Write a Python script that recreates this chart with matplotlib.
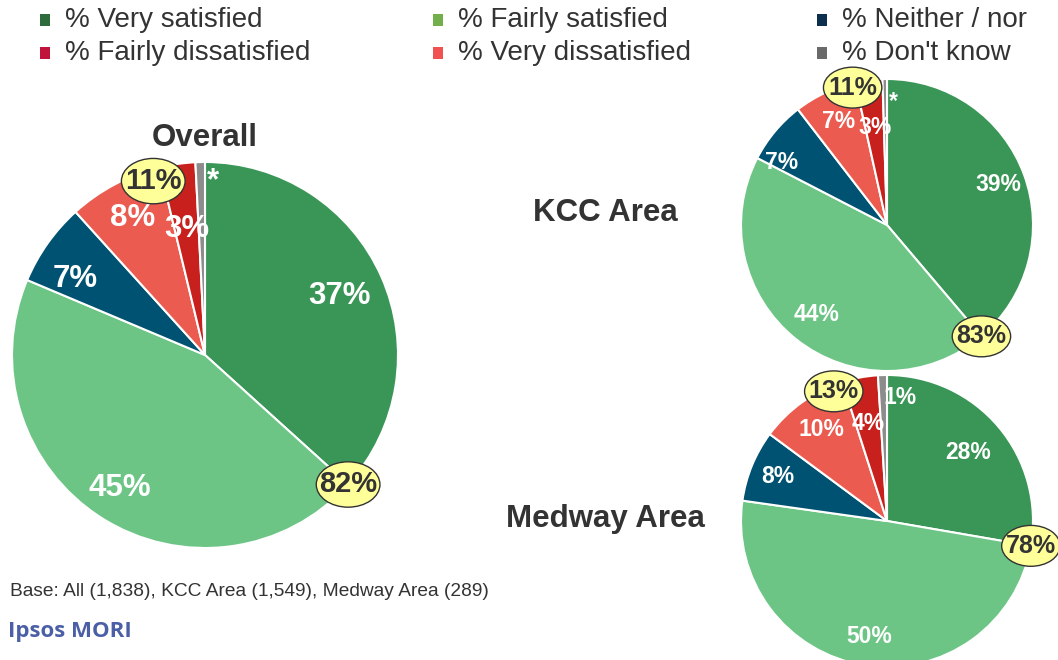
import matplotlib.pyplot as plt
import numpy as np
from matplotlib.patches import Ellipse, Rectangle

plt.rcParams['font.family'] = ['Liberation Sans', 'DejaVu Sans']

categories = ['% Very satisfied', '% Fairly satisfied', '% Neither / nor',
              '% Fairly dissatisfied', '% Very dissatisfied', "% Don't know"]
legend_colors = ['#2E6B3C', '#72AE4A', '#0D2F4E', '#C0143C', '#F05252', '#6A6A6A']

# pie order clockwise from top: very sat, fairly sat, neither, very dissat, fairly dissat, don't know
pie_colors = ['#3A9657', '#6CC585', '#005272', '#EB5B50', '#C8201C', '#8C8C8C']

overall = [37, 45, 7, 8, 3, 0.8]
kcc = [39, 44, 7, 7, 3, 0.5]
medway = [28, 50, 8, 10, 4, 1]

overall_labels = ['37%', '45%', '7%', '8%', '3%', '*']
kcc_labels = ['39%', '44%', '7%', '7%', '3%', '*']
medway_labels = ['28%', '50%', '8%', '10%', '4%', '1%']

overall_sat = '82%'
overall_dis = '11%'
kcc_sat = '83%'
kcc_dis = '11%'
medway_sat = '78%'
medway_dis = '13%'

W, H = 1058, 660
fig = plt.figure(figsize=(W / 100, H / 100), dpi=100)


def make_ax(cx, cy, R):
    s = 2.4 * R
    ax = fig.add_axes([(cx - s / 2) / W, 1 - (cy + s / 2) / H, s / W, s / H])
    return ax


def draw_pie(ax, values, labels, radii, shifts, fs, sat, dis, bub_w, bub_h, bub_fs,
             dis_r, dis_shift):
    wedges, _ = ax.pie(values, colors=pie_colors, startangle=90, counterclock=False,
                       radius=1, wedgeprops=dict(edgecolor='white', linewidth=1.5))
    ax.set_xlim(-1.2, 1.2)
    ax.set_ylim(-1.2, 1.2)
    ax.axis('off')
    for w, lab, r, sh in zip(wedges, labels, radii, shifts):
        a = np.deg2rad((w.theta1 + w.theta2) / 2 + sh)
        ax.text(r * np.cos(a), r * np.sin(a), lab, color='white', fontsize=fs,
                fontweight='bold', ha='center', va='center')
    # satisfied bubble at boundary of very / fairly satisfied
    a = np.deg2rad(wedges[0].theta1)
    x, y = np.cos(a), np.sin(a)
    ax.add_patch(Ellipse((x, y), bub_w, bub_h, facecolor='#FFFF99', edgecolor='#333333',
                         linewidth=1, zorder=5, clip_on=False))
    ax.text(x, y, sat, fontsize=bub_fs, fontweight='bold', color='#333333',
            ha='center', va='center', zorder=6)
    # dissatisfied bubble near boundary of the two dissatisfied slices
    a = np.deg2rad(wedges[4].theta2 + dis_shift)
    x, y = dis_r * np.cos(a), dis_r * np.sin(a)
    ax.add_patch(Ellipse((x, y), bub_w, bub_h, facecolor='#FFFF99', edgecolor='#333333',
                         linewidth=1, zorder=5, clip_on=False))
    ax.text(x, y, dis, fontsize=bub_fs, fontweight='bold', color='#333333',
            ha='center', va='center', zorder=6)


ax1 = make_ax(205, 355, 193)
draw_pie(ax1, overall, overall_labels, [0.76, 0.82, 0.78, 0.80, 0.66, 0.90],
         [0, 0, 5, 0, 0, -4], 22.5, overall_sat, overall_dis, 0.33, 0.235, 21, 0.94, 3)

ax2 = make_ax(887, 225, 146)
draw_pie(ax2, kcc, kcc_labels, [0.81, 0.78, 0.84, 0.78, 0.67, 0.85],
         [0, 0, 9, 0, 0, -4], 16.5, kcc_sat, kcc_dis, 0.40, 0.28, 18, 0.97, 1.5)

ax3 = make_ax(887, 521, 146)
draw_pie(ax3, medway, medway_labels, [0.73, 0.80, 0.81, 0.77, 0.68, 0.85],
         [0, 0, 0, 0, 0, -8], 16.5, medway_sat, medway_dis, 0.40, 0.28, 18, 0.96, 4.5)

# titles
fig.text(205 / W, 1 - 138 / H, 'Overall', fontsize=22.5, fontweight='bold',
         color='#333333', ha='center', va='center')
fig.text(605 / W, 1 - 213 / H, 'KCC Area', fontsize=22.5, fontweight='bold',
         color='#333333', ha='center', va='center')
fig.text(605 / W, 1 - 519 / H, 'Medway Area', fontsize=22.5, fontweight='bold',
         color='#333333', ha='center', va='center')

# legend (row-wise, 3 columns)
col_x = [40, 433, 817]
row_y = [20, 53]
for i, (lab, c) in enumerate(zip(categories, legend_colors)):
    x = col_x[i % 3]
    y = row_y[i // 3]
    fig.add_artist(Rectangle((x / W, 1 - (y + 6) / H), 10 / W, 12 / H,
                             transform=fig.transFigure, facecolor=c, edgecolor='none'))
    fig.text((x + 25) / W, 1 - y / H, lab, fontsize=20, color='#333333',
             ha='left', va='center')

fig.text(10 / W, 1 - 592 / H, 'Base: All (1,838), KCC Area (1,549), Medway Area (289)',
         fontsize=13.8, color='#333333', ha='left', va='center')
fig.text(8 / W, 1 - 632 / H, 'Ipsos MORI', fontsize=16, fontweight='bold',
         color='#4B5FA6', ha='left', va='center', family=['Open Sans', 'DejaVu Sans'])

fig.savefig('out.png', dpi=100)
